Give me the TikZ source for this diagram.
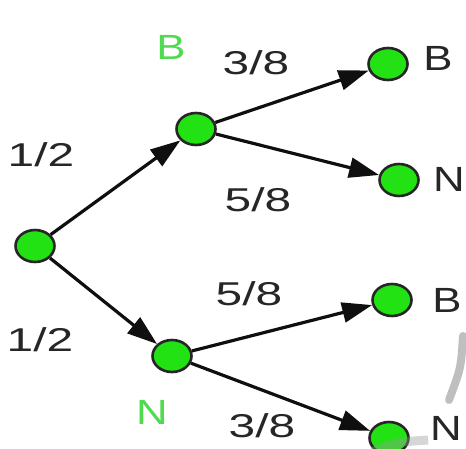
\documentclass[tikz,border=0pt]{standalone}
\usepackage{fontspec}
\usepackage{graphicx}
\setmainfont{Liberation Sans}
\usetikzlibrary{shapes.geometric,arrows.meta}
\definecolor{nodegreen}{RGB}{34,226,20}
\definecolor{labgreen}{RGB}{80,218,80}
\definecolor{edgeblack}{RGB}{15,15,15}
\newcommand{\numtxt}[1]{\scalebox{1.45}[1]{\fontsize{33}{36}\selectfont #1}}
\newcommand{\lettxt}[1]{\scalebox{1.25}[1]{\fontsize{35}{38}\selectfont #1}}
\begin{document}
\begin{tikzpicture}[x=1pt,y=-1pt,
  dot/.style={ellipse,draw=black!85,line width=2.6pt,fill=nodegreen,minimum width=39pt,minimum height=32pt,inner sep=0pt},
  branch/.style={draw=edgeblack,line width=3.2pt,-{Triangle[length=30pt,width=20pt]}},
  lab/.style={inner sep=0pt,text=black!85},
  glab/.style={inner sep=0pt,text=labgreen}]
\useasboundingbox[fill=white] (0,0) rectangle (466,448);
% nodes
\node[dot] (root) at (35,246) {};
\node[dot] (mB) at (196,129) {};
\node[dot] (mN) at (172,356) {};
\node[dot] (lBB) at (388,64) {};
\node[dot] (lBN) at (399,180) {};
\node[dot] (lNB) at (392,300) {};
\node[dot] (lNN) at (389,438) {};
% connectors
\draw[branch] (root) -- (mB);
\draw[branch] (root) -- (mN);
\draw[branch] (mB) -- (lBB);
\draw[branch] (mB) -- (lBN);
\draw[branch] (mN) -- (lNB);
\draw[branch] (mN) -- (lNN);
% watermark fragments
\draw[black!25,line width=8pt,line cap=round] (463,336) .. controls (461,368) .. (449,400);
\draw[black!40,opacity=0.4,line width=9pt] (372,452) .. controls (398,442) .. (428,440);
% labels
\node[glab] (tB) at (171,47) {\lettxt{B}};
\node[glab] (tN) at (152,412) {\lettxt{N}};
\node[lab] (p1) at (41,155) {\numtxt{1/2}};
\node[lab] (p2) at (40,340) {\numtxt{1/2}};
\node[lab] (p3) at (256,63) {\numtxt{3/8}};
\node[lab] (p4) at (258,200) {\numtxt{5/8}};
\node[lab] (p5) at (249,294) {\numtxt{5/8}};
\node[lab] (p6) at (262,426) {\numtxt{3/8}};
\node[lab] (e1) at (438,58) {\lettxt{B}};
\node[lab] (e2) at (449,179) {\lettxt{N}};
\node[lab] (e3) at (447,300) {\lettxt{B}};
\node[lab] (e4) at (446,428) {\lettxt{N}};
\end{tikzpicture}
\end{document}
